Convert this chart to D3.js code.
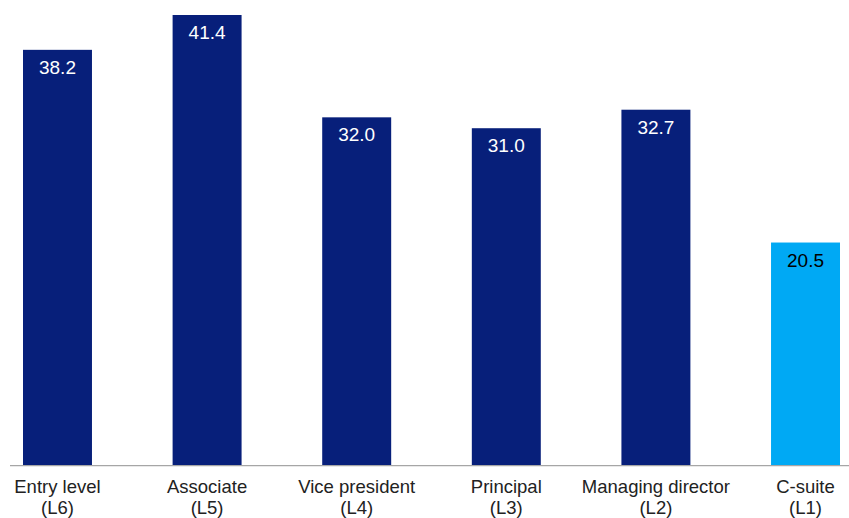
<!DOCTYPE html>
<html>
<head>
<meta charset="utf-8">
<script src="https://cdn.jsdelivr.net/npm/d3@7/dist/d3.min.js"></script>
<style>
  html, body { margin: 0; padding: 0; background: #fff; }
  svg { display: block; font-family: "Liberation Sans", Arial, Helvetica, sans-serif; }
</style>
</head>
<body>
<svg id="chart" width="849" height="518"></svg>
<script>
const categories = ["Entry level", "Associate", "Vice president", "Principal", "Managing director", "C-suite"];
const levels = ["(L6)", "(L5)", "(L4)", "(L3)", "(L2)", "(L1)"];
const values = [38.2, 41.4, 32.0, 31.0, 32.7, 20.5];
const highlight = [false, false, false, false, false, true];

const svg = d3.select("#chart");
const baseY = 465.7;

const x = d3.scaleBand()
  .domain(categories)
  .range([23, 840])
  .paddingInner(0.539)
  .paddingOuter(0);

const y = d3.scaleLinear()
  .domain([0, 41.4])
  .range([baseY, 15]);

const data = categories.map((c, i) => ({ c, lvl: levels[i], v: values[i], hl: highlight[i] }));

svg.selectAll("rect.bar")
  .data(data)
  .join("rect")
  .attr("class", "bar")
  .attr("x", d => x(d.c))
  .attr("width", x.bandwidth())
  .attr("y", d => y(d.v))
  .attr("height", d => baseY - y(d.v))
  .attr("fill", d => d.hl ? "#00a9f4" : "#071f7a");

svg.selectAll("text.val")
  .data(data)
  .join("text")
  .attr("class", "val")
  .attr("x", d => x(d.c) + x.bandwidth() / 2)
  .attr("y", d => y(d.v) + 24)
  .attr("text-anchor", "middle")
  .attr("font-size", "19px")
  .attr("fill", d => d.hl ? "#000" : "#fff")
  .text(d => d.v.toFixed(1));

// baseline axis
svg.append("line")
  .attr("x1", 10).attr("x2", 849)
  .attr("y1", baseY).attr("y2", baseY)
  .attr("stroke", "#a6a6a6")
  .attr("stroke-width", 1.2);

const lab = svg.selectAll("text.cat")
  .data(data)
  .join("text")
  .attr("class", "cat")
  .attr("text-anchor", "middle")
  .attr("font-size", "18.5px")
  .attr("fill", "#222");

lab.append("tspan")
  .attr("x", d => x(d.c) + x.bandwidth() / 2)
  .attr("y", 493)
  .text(d => d.c);
lab.append("tspan")
  .attr("x", d => x(d.c) + x.bandwidth() / 2)
  .attr("y", 514)
  .text(d => d.lvl);
</script>
</body>
</html>
